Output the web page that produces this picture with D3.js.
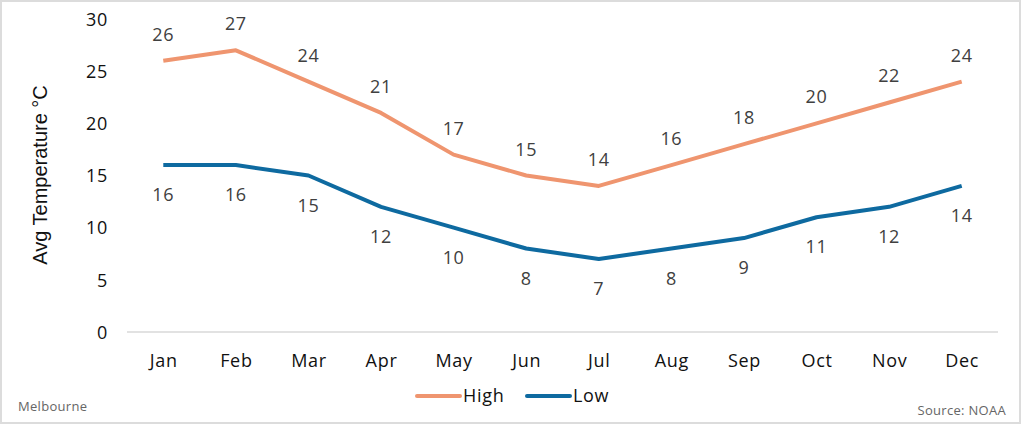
<!DOCTYPE html>
<html><head><meta charset="utf-8">
<script src="https://cdn.jsdelivr.net/npm/d3@7"></script>
<style>
html,body{margin:0;padding:0;background:#fff;}
svg{display:block;}
</style></head>
<body>
<svg id="chart" width="1022" height="427"></svg>
<script>
const months = ["Jan","Feb","Mar","Apr","May","Jun","Jul","Aug","Sep","Oct","Nov","Dec"];
const highTemps = [26,27,24,21,17,15,14,16,18,20,22,24];
const lowTemps  = [16,16,15,12,10,8,7,8,9,11,12,14];
const yTicks = [0,5,10,15,20,25,30];
const seriesNames = ["High","Low"];
const seriesColors = ["#EF956F","#0E6AA0"];

const svg = d3.select("#chart");
const W = 1022, H = 427;
const font = "'Open Sans', sans-serif";
const ls = "0.7px";

// border
svg.append("rect").attr("x",1).attr("y",1).attr("width",W-3).attr("height",H-5)
  .attr("fill","#fff").attr("stroke","#dcdcdc").attr("stroke-width",2);

const x = d3.scalePoint().domain(months).range([127,998]).padding(0.5);
const y = d3.scaleLinear().domain([0,30]).range([332,19]);

// zero gridline / baseline
svg.append("line").attr("x1",127).attr("x2",998).attr("y1",y(0)).attr("y2",y(0))
  .attr("stroke","#d9d9d9").attr("stroke-width",1.5);

// y axis
const yAxis = svg.append("g").attr("transform","translate(108,0)")
  .call(d3.axisLeft(y).tickValues(yTicks).tickSize(0).tickPadding(0));
yAxis.select(".domain").remove();
yAxis.selectAll("text").attr("font-family",font).attr("font-size",18).attr("fill","#111")
  .attr("letter-spacing",ls).attr("dy","0.35em");

// x axis
const xAxis = svg.append("g").attr("transform",`translate(0,${y(0)})`)
  .call(d3.axisBottom(x).tickSize(0).tickPadding(22));
xAxis.select(".domain").remove();
xAxis.selectAll("text").attr("font-family",font).attr("font-size",18).attr("fill","#111")
  .attr("letter-spacing",ls);

// y title
svg.append("text").attr("transform","translate(47,175) rotate(-90)")
  .attr("text-anchor","middle").attr("font-family","'Liberation Sans', Arial, sans-serif")
  .attr("font-size",20).attr("fill","#111").text("Avg Temperature °C");

const line = d3.line().x((d,i)=>x(months[i])).y(d=>y(d));
const series = [highTemps, lowTemps];
series.forEach((vals,si)=>{
  svg.append("path").datum(vals).attr("d",line).attr("fill","none")
    .attr("stroke",seriesColors[si]).attr("stroke-width",4).attr("stroke-linejoin","round");
  svg.selectAll(null).data(vals).enter().append("text")
    .attr("x",(d,i)=>x(months[i]))
    .attr("y",d=> si===0 ? y(d)-20 : y(d)+36)
    .attr("text-anchor","middle").attr("font-family",font).attr("font-size",18)
    .attr("letter-spacing",ls).attr("fill","#404040").text(d=>d);
});

// legend
const legendX = [417, 527];
seriesNames.forEach((n,i)=>{
  svg.append("line").attr("x1",legendX[i]).attr("x2",legendX[i]+43).attr("y1",396).attr("y2",396)
    .attr("stroke",seriesColors[i]).attr("stroke-width",4).attr("stroke-linecap","round");
  svg.append("text").attr("x",legendX[i]+46).attr("y",402).attr("font-family",font)
    .attr("font-size",18).attr("letter-spacing",ls).attr("fill","#111").text(n);
});

svg.append("text").attr("x",18).attr("y",411).attr("font-family",font).attr("font-size",13)
  .attr("letter-spacing","0.3px").attr("fill","#666").text("Melbourne");
svg.append("text").attr("x",1006).attr("y",415).attr("text-anchor","end").attr("font-family",font)
  .attr("font-size",13).attr("letter-spacing","0.3px").attr("fill","#666").text("Source: NOAA");
</script>
</body></html>
